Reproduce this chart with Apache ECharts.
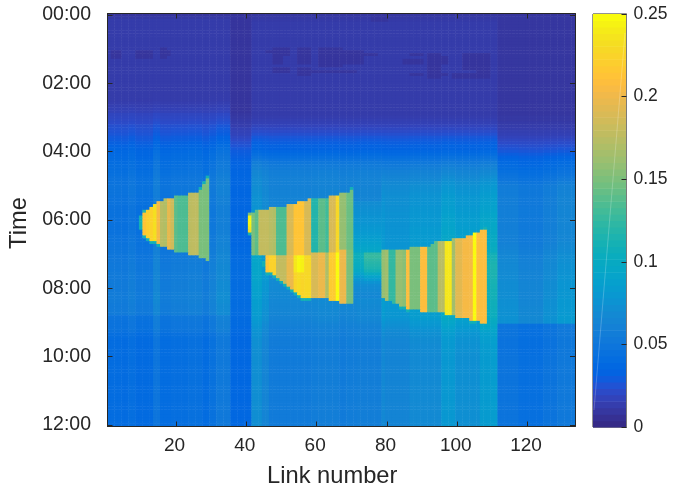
<!DOCTYPE html>
<html><head><meta charset="utf-8">
<script src="https://cdn.jsdelivr.net/npm/echarts@6/dist/echarts.min.js"></script>
<style>html,body{margin:0;padding:0;background:#fff}#c{width:691px;height:487px}</style>
</head><body><div id="c"></div>
<script>
const linkTicks = [20,40,60,80,100,120];
const timeTicks = ['00:00','02:00','04:00','06:00','08:00','10:00','12:00'];
const LINK_COUNT = 133, ROW_COUNT = 145;
const parula = [[0.2081,0.1663,0.5292],[0.2116,0.1898,0.5777],[0.2123,0.2138,0.6270],[0.2081,0.2386,0.6771],[0.1959,0.2645,0.7279],[0.1707,0.2919,0.7792],[0.1253,0.3242,0.8303],[0.0591,0.3598,0.8683],[0.0117,0.3875,0.8820],[0.0060,0.4086,0.8828],[0.0165,0.4266,0.8786],[0.0329,0.4430,0.8720],[0.0498,0.4586,0.8641],[0.0629,0.4737,0.8554],[0.0723,0.4887,0.8467],[0.0779,0.5040,0.8384],[0.0793,0.5200,0.8312],[0.0749,0.5375,0.8263],[0.0641,0.5570,0.8240],[0.0488,0.5772,0.8228],[0.0343,0.5966,0.8199],[0.0265,0.6137,0.8135],[0.0239,0.6287,0.8038],[0.0231,0.6418,0.7913],[0.0228,0.6535,0.7768],[0.0267,0.6642,0.7607],[0.0384,0.6743,0.7436],[0.0590,0.6838,0.7254],[0.0843,0.6928,0.7062],[0.1133,0.7015,0.6859],[0.1453,0.7098,0.6646],[0.1801,0.7177,0.6424],[0.2178,0.7250,0.6193],[0.2586,0.7317,0.5954],[0.3022,0.7376,0.5712],[0.3482,0.7424,0.5473],[0.3953,0.7459,0.5244],[0.4420,0.7481,0.5033],[0.4871,0.7491,0.4840],[0.5300,0.7491,0.4661],[0.5709,0.7485,0.4494],[0.6099,0.7473,0.4337],[0.6473,0.7456,0.4188],[0.6834,0.7435,0.4044],[0.7184,0.7411,0.3905],[0.7525,0.7384,0.3768],[0.7858,0.7356,0.3633],[0.8185,0.7327,0.3498],[0.8507,0.7299,0.3360],[0.8824,0.7274,0.3217],[0.9139,0.7258,0.3063],[0.9450,0.7261,0.2886],[0.9739,0.7314,0.2666],[0.9938,0.7455,0.2403],[0.9990,0.7653,0.2164],[0.9955,0.7861,0.1967],[0.9880,0.8066,0.1794],[0.9789,0.8271,0.1633],[0.9697,0.8481,0.1475],[0.9626,0.8705,0.1309],[0.9589,0.8949,0.1132],[0.9598,0.9218,0.0948],[0.9661,0.9514,0.0755],[0.9763,0.9831,0.0538]];

// Background level per 5-minute row, in thousandths, for each block of links
const rowsLeft = [
7,9,11,11,11,11,11,11,11,11, 11,11,11,11,11,11,11,11,11,11, 11,11,11,11,11,11,11,11,11,11,
11,12,13,14,15,17,18,19,20,22, 23,24,25,27,28,30,32,34,36,37, 38,39,40,41,42,43,44,45,46,46,
47,47,47,47,46,46,46,45,45,45, 45,45,45,45,45,45,46,46,47,47, 48,48,49,49,50,50,51,51,52,52,
52,53,53,53,54,54,54,54,55,55, 55,55,54,54,54,54,47,47,46,46, 46,45,42,41,40,40,40,40,40,40,
40,40,40,40,40,40,40,40,40,40, 40,40,40,40,40,40,40,40,40,40, 40,40,40,40,40];
const rowsGap = [
6,7,7,7,7,7,7,7,7,7, 7,7,7,7,7,7,7,7,7,7, 7,7,7,7,7,7,7,7,7,7,
7,7,7,7,7,8,9,10,11,12, 14,15,16,18,20,22,24,26,28,29, 30,31,32,33,33,34,34,35,35,35,
35,35,35,35,35,35,35,35,35,35, 35,35,35,35,35,35,35,35,35,35, 36,36,37,37,38,38,39,39,40,40,
40,40,40,40,40,40,40,40,40,40, 40,40,40,40,40,40,38,38,38,38, 37,37,36,36,36,36,36,36,36,36,
36,36,36,36,36,36,36,36,36,36, 36,36,36,36,36,36,36,36,36,36, 36,36,36,36,36];
const rowsMidA = [
8,9,10,11,11,11,11,11,11,11, 11,11,11,11,11,11,11,11,11,11, 11,11,11,11,11,11,11,11,11,11,
11,11,11,11,11,11,12,13,14,16, 18,20,22,25,27,29,31,32,35,38, 42,46,50,53,55,57,58,59,60,60,
60,61,61,61,62,62,62,62,63,63, 63,63,64,64,64,64,65,65,65,65, 65,66,66,66,68,70,70,70,70,70,
70,70,69,69,68,68,67,67,66,66, 65,65,64,64,63,63,62,62,60,59, 58,57,56,56,55,55,55,54,54,54,
54,54,54,54,54,54,54,54,54,54, 54,54,54,54,54,54,54,54,54,54, 54,54,54,54,54];
const rowsMidB = [
8,9,10,11,11,11,11,11,11,11, 11,11,11,11,11,11,11,11,11,11, 11,11,11,11,11,11,11,11,11,11,
11,11,11,11,11,11,12,13,14,16, 18,20,22,25,27,29,31,32,35,38, 42,46,50,54,57,60,62,64,66,68,
70,71,72,73,74,74,75,75,76,76, 77,77,78,78,78,79,79,79,80,80, 80,80,81,81,85,87,88,89,90,90,
90,89,89,88,88,87,87,86,86,85, 85,84,84,83,83,82,82,80,78,76, 74,72,70,69,68,68,67,67,67,66,
66,66,66,66,66,66,66,66,66,66, 66,66,66,66,66,66,66,66,66,66, 66,66,66,66,66];
const rowsRight = [
7,8,8,8,8,8,8,8,8,8, 8,8,8,8,8,8,8,8,8,8, 8,8,8,8,8,8,8,8,8,8,
8,8,8,8,8,8,9,9,10,11, 12,13,14,16,18,20,22,24,26,29, 32,35,37,39,41,43,45,47,49,52,
55,56,56,56,57,57,57,57,58,58, 58,58,58,58,58,58,59,59,59,59, 60,61,62,63,64,65,66,66,67,67,
68,68,69,69,70,70,70,71,71,71, 72,72,72,73,73,73,74,74,74,48, 48,47,47,47,46,46,46,46,46,46,
47,47,47,47,47,47,47,47,47,47, 47,47,47,47,47,47,47,47,47,47, 47,47,47,47,47];
const blockRows = [rowsLeft, rowsGap, rowsMidA, rowsMidB, rowsRight];
const blockFirstLink = [0,35,41,78,111];
const blockDawnRow = [26,32,36,36,40];
const blockGainFade = [24,24,48,48,24];

// Brightness of each link relative to its block (links 1..133)
const linkGain = [
1,1,1,1,.98,.98,1.05,1.05,.95,.95, .95,.95,.95,1.2,1.2,1,1,1,1.05,1.05,
1.05,1.05,1.05,1.08,1.08,1.08,1.08,1,1,1.12, 1.12,1.28,1.28,1.28,1.28,1,1,1,1,1,
1,1.32,1.32,1.32,1.16,1.16,1,1,1,1, 1,1,1,1,1,1,1,1,1.02,1.02,
1.05,1.05,1.05,1.05,1.05,1.05,1,1,1.02,1.02, 1.02,1.05,1.05,1.05,1.05,1.05,1.05,1.05,1,.95,
.95,.95,.95,.95,.95,.95,1.03,1.03,1.03,1.03, 1.03,1.03,1.03,1.03,1.03,1.2,1.2,1.2,1.2,1.1,
1.1,1.1,1.1,1.1,1.1,1.1,1.25,1.25,1.25,1.28, 1.28,1,1,1,1,1,1,.9,.9,.9,
.9,.9,.9,.9,1,1,1,1,1.1,1.1, 1.1,1.1,1.1];

// Darker specks at night: first link, last link, first row, last row (0-based)
const nightSpecks = [
[1,3,13,15],[8,12,13,15],[15,16,12,15],[17,17,13,14],[45,51,13,13],[47,51,12,14],[47,49,14,17],[47,51,19,20],
[54,57,12,17],[54,57,19,21],[57,66,20,20],[60,66,12,18],[66,72,13,17],[66,70,20,20],[73,76,14,14],[86,89,14,14],
[84,89,16,17],[86,89,21,21],[91,94,14,22],[94,96,15,17],[94,96,21,21],[98,104,21,22],[101,104,14,19],[105,108,14,22],[108,108,17,17],[75,79,0,2]];
const nightSpeckLevel = 0.007;

// Congestion wave at links 10..29
const waveOneLink = 9;
const waveOneFirst = [71,70,69,68,67,66,66,65,65,65,64,64,64,64,63,63,63,62,60,58];
const waveOneLast  = [75,77,78,79,79,80,81,81,82,82,83,83,83,83,84,84,84,85,85,86];
const waveOneLevel = [.11,.215,.222,.225,.235,.205,.175,.172,.197,.185,.14,.135,.135,.135,.177,.178,.178,.15,.15,.15];

// Upper part of the middle wave at links 42..70
const waveUpLink = 41;
const waveUpFirst = [70,69,69,69,69,68,68,68,68,68,67,67,67,66,66,66,65,65,65,65,65,65,64,64,64,63,63,63,62];
const waveUpLast  = [84,84,84,84,84,84,84,84,84,84,84,84,84,84,84,84,84,83,83,83,83,83,83,83,83,82,82,82,82];
const waveUpLevel = [.15,.14,.18,.18,.18,.175,.172,.135,.135,.135,.19,.19,.215,.215,.215,.19,.19,.118,.118,.14,.14,.13,.19,.19,.23,.16,.16,.145,.145];

// Lower part of the middle wave at links 46..70
const waveLowLink = 45;
const waveLowFirst = [85,85,85,85,85,85,85,85,85,85,85,85,85,84,84,84,84,84,84,84,84,83,83,83,83];
const waveLowLast  = [90,90,91,92,93,94,95,96,97,98,99,99,99,99,99,99,99,99,100,100,100,101,101,101,101];
const waveLowLevel = [.215,.225,.225,.18,.18,.18,.2,.2,.228,.232,.228,.23,.23,.19,.19,.2,.2,.17,.22,.22,.25,.2,.2,.15,.15];
const waveCoreLinks = [53,54,55];
const waveCoreLevel = [.24,.248,.245];
const waveCoreRows = [85,90];

// Tip of the middle wave at link 41
const tipLink = 40, tipRows = [70,71,72,73,74,75,76,77], tipLevel = [.15,.245,.248,.248,.245,.24,.23,.11];

// Far wave at links 79..108
const waveFarLink = 78;
const waveFarFirst = [83,83,83,83,83,83,83,83,82,82,82,82,82,82,81,80,80,80,80,80,79,79,79,79,78,78,77,77,76,76];
const waveFarLast  = [99,100,100,101,101,102,102,103,103,103,103,104,104,104,104,104,104,104,105,105,105,106,106,106,106,107,107,107,108,108];
const waveFarLevel = [.16,.165,.125,.125,.16,.16,.155,.21,.15,.15,.15,.21,.21,.14,.14,.14,.175,.175,.24,.24,.165,.195,.195,.205,.205,.205,.25,.21,.21,.21];

// Band that joins the middle and far waves, links 71..78
const bridgeAboveRow = 66;
const bridgeAboveLevel = [.07,.071,.072,.073,.074,.075,.076,.077,.078,.079,.08,.082,.084,.086,.088,.09,.092,.095];
const bridgeRow = 84;
const bridgeNearLinks = [70,71,72], bridgeFarLinks = [73,74,75,76,77];
const bridgeNearLevel = [.105,.105,.104,.103,.102,.1,.096,.09,.083,.078,.074,.071,.069,.068,.066,.065];
const bridgeFarLevel = [.125,.126,.123,.12,.118,.115,.11,.1,.09,.083,.075,.071,.069,.068,.066,.065];

// Teal rim cells on the wave edges: link, row, level
const rimCells = [[27,59,.11],[28,57,.11],[26,61,.11],[10,78,.11],[11,79,.11],[12,80,.11],[13,80,.11],[14,81,.11],[10,69,.12],
[44,87,.11],[44,88,.11],[45,91,.11],[46,91,.11],[47,92,.11],[48,93,.11],[49,94,.11],[50,95,.11],[51,96,.11],[52,97,.11],[53,98,.11],[54,99,.11],[55,100,.11],[56,100,.11],[57,100,.11],
[69,61,.11],[107,75,.11],[104,108,.11],[103,108,.11],[85,104,.11],[84,103,.11],[83,103,.11]];

const grid = [];
for (let r = 0; r < ROW_COUNT; r++) {
  grid.push([]);
  for (let i = 0; i < LINK_COUNT; i++) {
    let b = 0;
    while (b < 4 && i >= blockFirstLink[b + 1]) b++;
    let v = blockRows[b][r] / 1000;
    if (r >= blockDawnRow[b]) v *= 1 + (linkGain[i] - 1) * Math.min(1, (r - blockDawnRow[b]) / blockGainFade[b]);
    grid[r].push(v);
  }
}
const put = (i, r, v) => { grid[r][i] = v; };
nightSpecks.forEach(s => { for (let i = s[0]; i <= s[1]; i++) for (let r = s[2]; r <= s[3]; r++) put(i, r, nightSpeckLevel); });
bridgeNearLinks.concat(bridgeFarLinks).forEach(i => bridgeAboveLevel.forEach((v, k) => put(i, bridgeAboveRow + k, v)));
bridgeNearLinks.forEach(i => bridgeNearLevel.forEach((v, k) => put(i, bridgeRow + k, v)));
bridgeFarLinks.forEach(i => bridgeFarLevel.forEach((v, k) => put(i, bridgeRow + k, v)));
const paint = (start, first, last, level) => level.forEach((v, k) => { for (let r = first[k]; r <= last[k]; r++) put(start + k, r, v); });
paint(waveOneLink, waveOneFirst, waveOneLast, waveOneLevel);
paint(waveUpLink, waveUpFirst, waveUpLast, waveUpLevel);
paint(waveLowLink, waveLowFirst, waveLowLast, waveLowLevel);
paint(waveFarLink, waveFarFirst, waveFarLast, waveFarLevel);
waveCoreLinks.forEach((i, k) => { for (let r = waveCoreRows[0]; r <= waveCoreRows[1]; r++) put(i, r, waveCoreLevel[k]); });
tipRows.forEach((r, k) => put(tipLink, r, tipLevel[k]));
rimCells.forEach(c => put(c[0], c[1], c[2]));

const cells = [];
grid.forEach((row, r) => row.forEach((v, i) => cells.push([i, r, v])));

const linkNames = Array.from({length: LINK_COUNT}, (_, i) => String(i + 1));
const rowNames = Array.from({length: ROW_COUNT}, (_, r) => r % 24 === 0 ? timeTicks[r / 24] : '');
const showLink = (idx, name) => linkTicks.includes(Number(name));
const showRow = idx => idx % 24 === 0;
const toHex = c => 'rgb(' + c.map(x => Math.round(x * 255)).join(',') + ')';
const parulaCss = parula.map(toHex);
const barLevels = parula.map((c, k) => [k * 0.25 / 64, (k + 1) * 0.25 / 64]);

const ink = '#262626';
const font = '"Liberation Sans", Arial, sans-serif';
const lineSty = {show: true, onZero: false, lineStyle: {color: ink, width: 1}};
const tickSty = (fn) => ({show: true, inside: true, length: 5, alignWithLabel: true, interval: fn, lineStyle: {color: ink, width: 1}});

const chart = echarts.init(document.getElementById('c'), null, {renderer: 'canvas'});
chart.setOption({
  animation: false,
  backgroundColor: '#fff',
  grid: [
    {left: 107.5, top: 13.5, width: 467.5, height: 413, containLabel: false, outerBoundsMode: 'none'},
    {left: 593, top: 14, width: 33.5, height: 413, show: true, borderColor: ink, borderWidth: 1, backgroundColor: 'transparent', outerBoundsMode: 'none'}
  ],
  xAxis: [
    {type: 'category', gridIndex: 0, z: 10, data: linkNames, position: 'bottom', axisLine: lineSty, axisTick: tickSty(showLink),
     axisLabel: {interval: showLink, color: ink, fontSize: 19, fontFamily: font, margin: 10, hideOverlap: false, padding: [0, 3, 0, 0]},
     name: 'Link number', nameLocation: 'middle', nameGap: 38, nameTextStyle: {color: ink, fontSize: 23.7, fontFamily: font, padding: [0, 18, 0, 0]}, splitLine: {show: false}},
    {type: 'category', gridIndex: 0, z: 10, data: linkNames, position: 'top', axisLine: lineSty, axisTick: tickSty(showLink), axisLabel: {show: false}, splitLine: {show: false}},
    {type: 'value', gridIndex: 1, z: 10, min: 0, max: 1, axisLine: {show: false}, axisTick: {show: false}, axisLabel: {show: false}, splitLine: {show: false}}
  ],
  yAxis: [
    {type: 'category', gridIndex: 0, z: 10, data: rowNames, inverse: true, position: 'left', axisLine: lineSty, axisTick: tickSty(showRow),
     axisLabel: {interval: showRow, color: ink, fontSize: 19.5, fontFamily: font, margin: 16.5, hideOverlap: false, padding: [4, 0, 0, 0]},
     name: 'Time', nameLocation: 'middle', nameGap: 71, nameRotate: 90, nameTextStyle: {color: ink, fontSize: 23.7, fontFamily: font, padding: [0, 6, 0, 0]}, splitLine: {show: false}},
    {type: 'category', gridIndex: 0, z: 10, data: rowNames, inverse: true, position: 'right', axisLine: lineSty, axisTick: tickSty(showRow), axisLabel: {show: false}, splitLine: {show: false}},
    {type: 'value', gridIndex: 1, z: 10, zlevel: 1, position: 'right', min: 0, max: 0.25, interval: 0.05,
     axisLine: {show: true, onZero: false, lineStyle: {color: '#7a7a7a', width: 1}}, axisTick: {show: true, inside: true, length: 5, lineStyle: {color: ink, width: 1}},
     axisLabel: {color: ink, fontSize: 17.5, fontFamily: font, margin: 7, formatter: v => String(+v.toFixed(2))}, splitLine: {show: false}}
  ],
  visualMap: {show: false, type: 'continuous', seriesIndex: 0, dimension: 2, min: 0, max: 0.25, inRange: {color: parulaCss}},
  series: [
    {type: 'heatmap', xAxisIndex: 0, yAxisIndex: 0, data: cells, progressive: 0, emphasis: {disabled: true}, z: 1},
    {type: 'custom', xAxisIndex: 2, yAxisIndex: 2, data: barLevels, encode: {y: [0, 1]}, silent: true, z: 0,
     renderItem: (params, api) => {
       const a = api.coord([0, api.value(0)]), b = api.coord([1, api.value(1)]);
       return {type: 'rect', shape: {x: a[0], y: b[1], width: b[0] - a[0], height: a[1] - b[1] + 0.6},
               style: {fill: parulaCss[params.dataIndex]}};
     }}
  ],
  graphic: [{type: 'line', silent: true, z: 50, shape: {x1: 594, y1: 410, x2: 625, y2: 33}, style: {stroke: 'rgba(255,255,255,0.22)', lineWidth: 1}}]
});
</script></body></html>
